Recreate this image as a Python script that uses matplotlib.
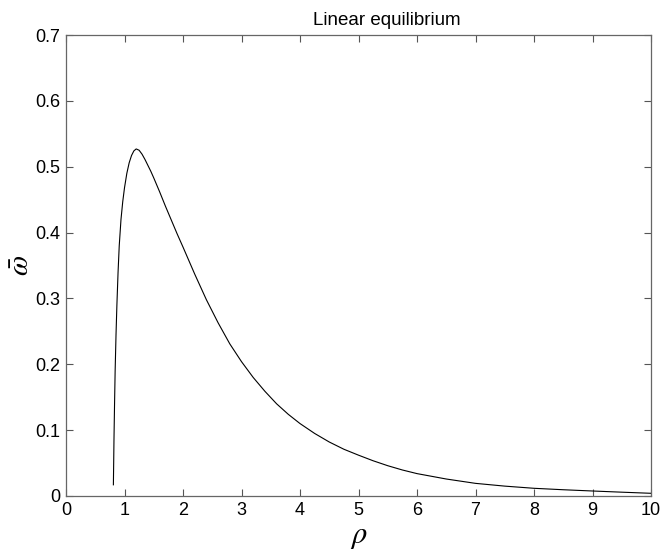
import numpy as np
import matplotlib.pyplot as plt

# values
rho = [0.81, 0.815, 0.82, 0.83, 0.84, 0.855, 0.87, 0.89, 0.91, 0.94, 0.97,
       1.0, 1.04, 1.08, 1.12, 1.16, 1.2, 1.25, 1.3, 1.35, 1.4, 1.45, 1.5, 1.6,
       1.7, 1.8, 1.9, 2.0, 2.2, 2.4, 2.6, 2.8, 3.0, 3.2, 3.4, 3.6, 3.8,
       4.0, 4.25, 4.5, 4.75, 5.0, 5.25, 5.5, 5.75, 6.0, 6.5, 7.0, 7.5,
       8.0, 8.5, 9.0, 9.5, 10.0]
omega = [0.017, 0.05, 0.085, 0.14, 0.19, 0.245, 0.29, 0.34, 0.38, 0.42, 0.447,
         0.468, 0.490, 0.506, 0.517, 0.524, 0.527, 0.525, 0.519, 0.511, 0.502, 0.493, 0.483, 0.462,
         0.440, 0.419, 0.398, 0.378, 0.337, 0.298, 0.263, 0.231, 0.204, 0.180, 0.159, 0.140, 0.124,
         0.110, 0.095, 0.082, 0.071, 0.062, 0.0535, 0.046, 0.0395, 0.034, 0.0258, 0.0192, 0.015,
         0.0117, 0.0095, 0.0076, 0.0058, 0.0041]

xticks = np.arange(0, 11, 1)
yticks = np.arange(0, 0.71, 0.1)

plt.rcParams['font.family'] = ['Liberation Sans', 'DejaVu Sans']
plt.rcParams['mathtext.fontset'] = 'stix'

fig = plt.figure(figsize=(6.61, 5.5), dpi=100)
ax = fig.add_axes([66/661, 54/550, 585/661, 461/550])

ax.plot(rho, omega, color='black', linewidth=0.8)

ax.set_xlim(0, 10)
ax.set_ylim(0, 0.7)
ax.set_xticks(xticks)
ax.set_yticks(yticks)
ax.set_xticklabels([str(int(t)) for t in xticks])
ax.set_yticklabels(['0'] + ['%.1f' % t for t in yticks[1:]])
ax.tick_params(direction='in', length=5, width=0.8, color='#555555',
               top=True, right=True, labelsize=13, pad=4)

for s in ax.spines.values():
    s.set_color('#666666')
    s.set_linewidth(0.9)

ax.set_xlabel(r'$\rho$', fontsize=22, labelpad=2)
ax.set_ylabel(r'$\bar{\omega}$', fontsize=21, labelpad=0)
ax.set_title('Linear equilibrium', fontsize=13.5, x=0.549, pad=7)

plt.savefig('out.png', dpi=100)
